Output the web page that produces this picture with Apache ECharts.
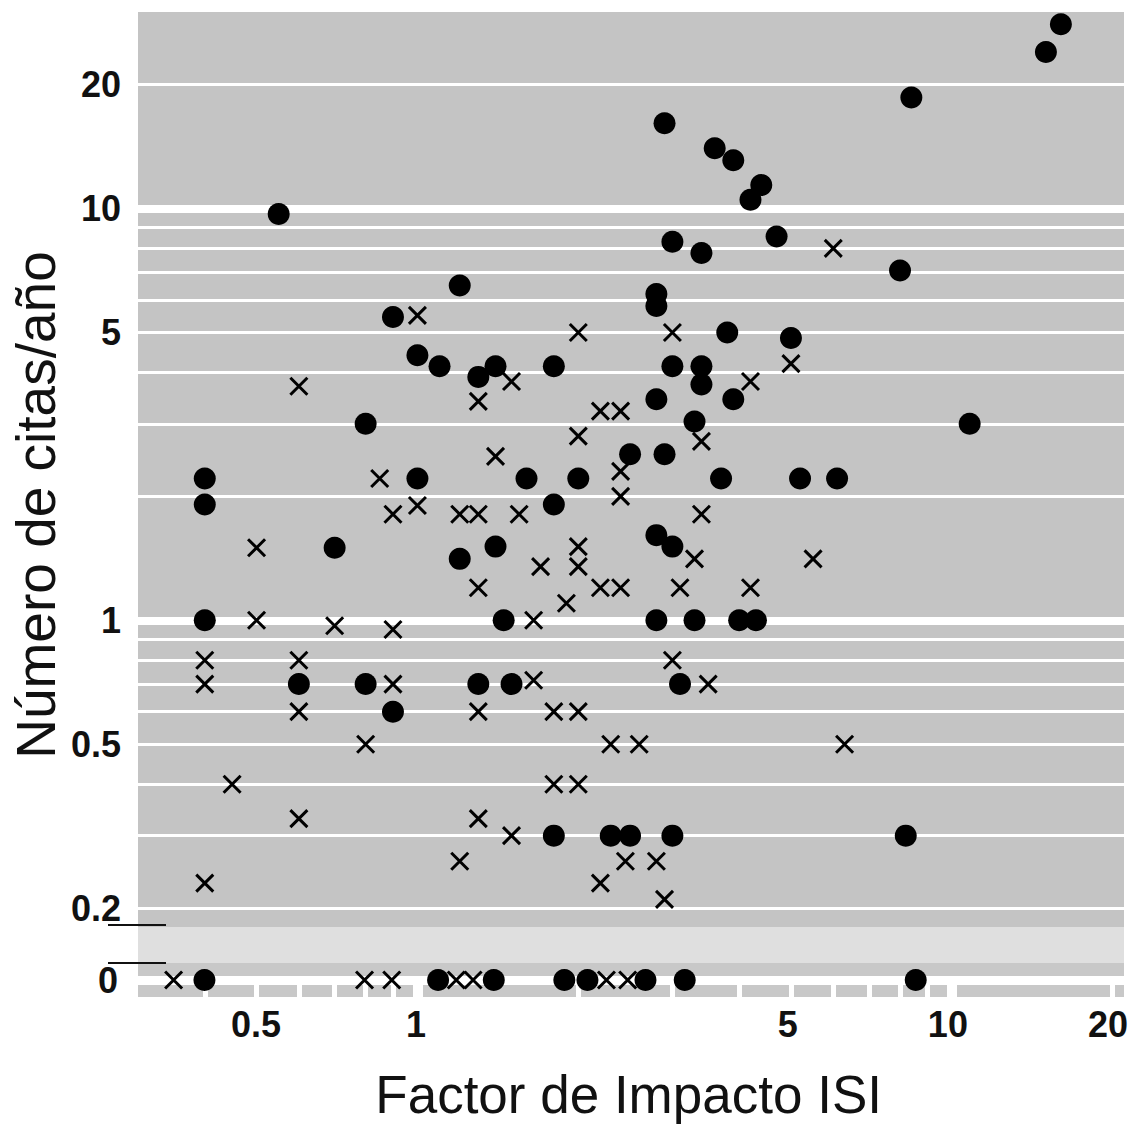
<!DOCTYPE html>
<html>
<head>
<meta charset="utf-8">
<script src="https://cdn.jsdelivr.net/npm/echarts@6/dist/echarts.min.js"></script>
<style>
  html, body { margin: 0; padding: 0; background: #ffffff; }
  #chart { width: 1131px; height: 1125px; }
</style>
</head>
<body>
<div id="chart"></div>
<script>
// ---- Data ----
// Filled circles (x = Factor de Impacto ISI, y = Número de citas/año)
const circleX = [16, 15, 8.4, 2.9, 3.6, 3.9, 4.4, 4.2, 0.55, 3.0,
                 3.4, 4.7, 8.0, 1.2, 2.8, 2.8, 0.9, 3.8, 5.0, 1.0,
                 1.1, 1.3, 1.4, 1.8, 3.0, 3.4, 3.4, 2.8, 3.9, 0.8,
                 3.3, 10.8, 2.5, 2.9, 0.4, 1.0, 1.6, 2.0, 3.7, 5.2,
                 6.1, 0.4, 1.8, 0.7, 2.8, 3.0, 1.4, 1.2, 0.4, 1.45,
                 2.8, 3.3, 4.0, 4.3, 0.6, 0.8, 1.3, 1.5, 3.1, 0.9,
                 1.8, 2.3, 2.5, 3.0, 8.2];
const circleY = [28, 24, 18.6, 16.1, 14, 13.1, 11.4, 10.5, 9.7, 8.3,
                 7.8, 8.55, 7.07, 6.5, 6.2, 5.8, 5.45, 5.0, 4.85, 4.4,
                 4.14, 3.9, 4.14, 4.14, 4.14, 4.14, 3.74, 3.44, 3.44, 3.0,
                 3.04, 3.0, 2.53, 2.53, 2.21, 2.21, 2.21, 2.21, 2.21, 2.21,
                 2.21, 1.91, 1.91, 1.5, 1.61, 1.51, 1.51, 1.41, 1.0, 1.0,
                 1.0, 1.0, 1.0, 1.0, 0.7, 0.7, 0.7, 0.7, 0.7, 0.6,
                 0.3, 0.3, 0.3, 0.3, 0.3];
// Crosses
const crossX = [6.0, 1.0, 2.0, 3.0, 5.0, 0.6, 1.5, 4.2, 1.3, 2.2,
                2.4, 2.0, 3.4, 1.4, 2.4, 0.85, 2.4, 1.0, 0.9, 1.2,
                1.3, 1.55, 3.4, 0.5, 2.0, 2.0, 1.7, 3.3, 5.5, 1.3,
                2.2, 2.4, 3.1, 4.2, 1.9, 0.5, 1.65, 0.7, 0.9, 0.4,
                0.6, 3.0, 0.4, 0.9, 1.65, 3.5, 0.6, 1.3, 1.8, 2.0,
                0.8, 2.3, 2.6, 6.3, 0.45, 1.8, 2.0, 0.6, 1.3, 1.5,
                1.2, 2.45, 2.8, 0.4, 2.2, 2.9];
const crossY = [8.0, 5.5, 5.0, 5.0, 4.2, 3.7, 3.8, 3.8, 3.4, 3.22,
                3.22, 2.8, 2.72, 2.5, 2.3, 2.21, 2.0, 1.9, 1.81, 1.81,
                1.81, 1.81, 1.81, 1.5, 1.51, 1.35, 1.35, 1.41, 1.41, 1.2,
                1.2, 1.2, 1.2, 1.2, 1.1, 1.0, 1.0, 0.97, 0.95, 0.8,
                0.8, 0.8, 0.7, 0.7, 0.715, 0.7, 0.6, 0.6, 0.6, 0.6,
                0.5, 0.5, 0.5, 0.5, 0.4, 0.4, 0.4, 0.33, 0.33, 0.3,
                0.26, 0.26, 0.26, 0.23, 0.23, 0.21];
// Points with zero citations/year (drawn in the separate "0" strip)
const zeroCircleX = [0.4, 1.1, 1.4, 1.9, 2.1, 2.7, 3.2, 8.7];
const zeroCrossX = [0.35, 0.8, 0.9, 1.19, 1.28, 2.28, 2.5];

// Axis ticks / labels
const xTickLabels = [0.5, 1, 5, 10, 20];
const yTickLabels = [0.2, 0.5, 1, 5, 10, 20];
const zeroTickLabels = [0];
const yMinorLines = [0.2, 0.3, 0.4, 0.5, 0.6, 0.7, 0.8, 0.9, 2, 3, 4, 5, 6, 7, 8, 9, 20];
const yMajorLines = [1, 10];
const xMinorLines = [0.4, 0.5, 0.6, 0.7, 0.8, 0.9, 2, 3, 4, 5, 6, 7, 8, 9, 20];
const xMajorLines = [1, 10];
const xRange = [0.3, 21];
const yRange = [0.18, 30];

const xTitle = 'Factor de Impacto ISI';
const yTitle = 'Número de citas/año';

// ---- Build chart ----
const FONT = '"Liberation Sans", Arial, Helvetica, sans-serif';
const INK = '#111111';
const GRAY = '#c4c4c4';
const ZGRAY = '#c8c8c8';
const BAND = '#dfdfdf';
const crossPath = 'path://M0,0L10,10M10,0L0,10';

const pairs = (xs, ys) => xs.map((x, i) => [x, ys[i]]);
const zeroPairs = xs => xs.map(x => [x, 0]);

const chart = echarts.init(document.getElementById('chart'), null, { renderer: 'svg' });

const hiddenLogX = g => ({ gridIndex: g, type: 'log', min: xRange[0], max: xRange[1], show: false });
const hiddenValY = g => ({ gridIndex: g, type: 'value', min: 0, max: 1, show: false });

const circleStyle = { color: '#000000', opacity: 1 };
const crossStyle = { color: 'none', borderColor: '#000000', borderWidth: 3, opacity: 1 };
const tickFont = { fontSize: 36, fontWeight: 'bold', color: INK, fontFamily: FONT };

chart.setOption({
  backgroundColor: '#ffffff',
  animation: false,
  textStyle: { fontFamily: FONT },
  grid: [
    { left: 138, right: 7, top: 12, height: 915, show: true, backgroundColor: GRAY, borderWidth: 0 },   // main
    { left: 138, right: 7, top: 927, height: 36, show: true, backgroundColor: BAND, borderWidth: 0 },   // break band
    { left: 138, right: 7, top: 963, height: 13, show: true, backgroundColor: ZGRAY, borderWidth: 0 },  // zero strip upper
    { left: 138, right: 7, top: 985, height: 12, show: true, backgroundColor: ZGRAY, borderWidth: 0 },  // zero strip lower (dashed)
    { left: 138, right: 7, top: 963, height: 34, show: false }                                          // zero points
  ],
  xAxis: [
    hiddenLogX(0),
    hiddenLogX(1),
    hiddenLogX(2),
    { gridIndex: 3, type: 'log', min: xRange[0], max: xRange[1],
      axisLine: { show: false }, axisLabel: { show: false },
      axisTick: { show: false, customValues: xMinorLines },
      splitLine: { show: true, lineStyle: { color: '#ffffff', width: 5 } } },
    { gridIndex: 3, type: 'log', min: xRange[0], max: xRange[1],
      axisLine: { show: false }, axisLabel: { show: false },
      axisTick: { show: false, customValues: xMajorLines },
      splitLine: { show: true, lineStyle: { color: '#ffffff', width: 10 } } },
    { gridIndex: 4, type: 'log', min: xRange[0], max: xRange[1], position: 'bottom',
      axisLine: { show: false }, axisTick: { show: false }, splitLine: { show: false },
      axisLabel: Object.assign({ customValues: xTickLabels, margin: 9 }, tickFont),
      name: xTitle, nameLocation: 'middle', nameGap: 71,
      nameTextStyle: { fontSize: 53, color: INK, fontFamily: FONT } }
  ],
  yAxis: [
    { gridIndex: 0, type: 'log', min: yRange[0], max: yRange[1],
      axisLine: { show: false },
      axisTick: { show: false, customValues: yMinorLines },
      axisLabel: Object.assign({ customValues: yTickLabels, margin: 17 }, tickFont),
      splitLine: { show: true, lineStyle: { color: '#ffffff', width: 3 } } },
    { gridIndex: 0, type: 'log', min: yRange[0], max: yRange[1], position: 'left',
      axisLine: { show: false }, axisLabel: { show: false },
      axisTick: { show: false, customValues: yMajorLines },
      splitLine: { show: true, lineStyle: { color: '#ffffff', width: 8 } } },
    hiddenValY(1),
    hiddenValY(2),
    hiddenValY(3),
    { gridIndex: 4, type: 'value', min: -1, max: 1,
      axisLine: { show: false }, axisTick: { show: false }, splitLine: { show: false },
      axisLabel: Object.assign({ customValues: zeroTickLabels, margin: 20 }, tickFont) }
  ],
  series: [
    { name: 'circles', type: 'scatter', xAxisIndex: 0, yAxisIndex: 0, clip: false,
      symbol: 'circle', symbolSize: 22, itemStyle: circleStyle,
      data: pairs(circleX, circleY), z: 5 },
    { name: 'crosses', type: 'scatter', xAxisIndex: 0, yAxisIndex: 0, clip: false,
      symbol: crossPath, symbolSize: 17, itemStyle: crossStyle,
      data: pairs(crossX, crossY), z: 5 },
    { name: 'circles0', type: 'scatter', xAxisIndex: 5, yAxisIndex: 5, clip: false,
      symbol: 'circle', symbolSize: 22, itemStyle: circleStyle,
      data: zeroPairs(zeroCircleX), z: 5 },
    { name: 'crosses0', type: 'scatter', xAxisIndex: 5, yAxisIndex: 5, clip: false,
      symbol: crossPath, symbolSize: 17, itemStyle: crossStyle,
      data: zeroPairs(zeroCrossX), z: 5 }
  ],
  graphic: [
    { type: 'line', z: 100, shape: { x1: 108, y1: 925, x2: 166, y2: 925 }, style: { stroke: INK, lineWidth: 2 } },
    { type: 'line', z: 100, shape: { x1: 108, y1: 963, x2: 166, y2: 963 }, style: { stroke: INK, lineWidth: 2 } },
    { type: 'text', z: 100, x: 36, y: 505, rotation: Math.PI / 2,
      style: { text: yTitle, fontSize: 55, fontFamily: FONT, fill: INK, align: 'center', verticalAlign: 'middle' } }
  ]
});
</script>
</body>
</html>
